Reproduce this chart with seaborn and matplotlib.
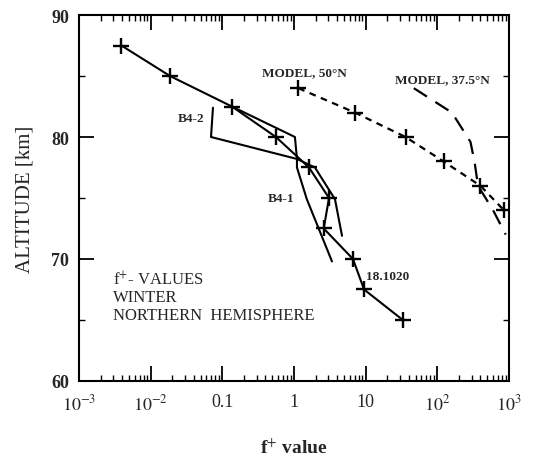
import matplotlib
matplotlib.use("Agg")
import matplotlib.pyplot as plt
import matplotlib.ticker as mticker
import numpy as np
import pandas as pd
import seaborn as sns

# Rocket profile 18.1020 (f+ value, altitude km)
f_18_1020 = [0.0039, 0.0186, 0.136, 0.56, 1.62, 3.08, 2.6, 6.65, 9.5, 33.0]
alt_18_1020 = [87.5, 85.0, 82.5, 80.0, 77.5, 75.0, 72.5, 70.0, 67.5, 65.0]

# Profile B4-1
f_b41 = [0.136, 1.03, 1.1, 1.1, 1.51, 3.39]
alt_b41 = [82.5, 80.0, 78.2, 77.5, 74.9, 69.8]

# Profile B4-2
f_b42 = [0.074, 0.0695, 1.1, 1.96, 3.73, 4.68]
alt_b42 = [82.4, 80.0, 78.2, 77.5, 74.9, 71.9]

# Model, 50 deg N
f_m50 = [1.15, 7.1, 36.0, 122.0, 400.0, 850.0]
alt_m50 = [84.0, 82.0, 80.0, 78.0, 76.0, 74.0]

# Model, 37.5 deg N
f_m375 = [47.0, 160.0, 290.0, 330.0, 370.0, 600.0, 900.0]
alt_m375 = [84.0, 82.0, 79.6, 78.0, 76.0, 74.0, 72.0]

xtick_vals = [1e-3, 1e-2, 0.1, 1, 10, 1e2, 1e3]
xtick_labels = [r"$10^{-3}$", r"$10^{-2}$", "0.1", "1", "10", r"$10^{2}$", r"$10^{3}$"]
ytick_vals = [60, 70, 80, 90]

sns.set_style("ticks")
plt.rcParams["font.family"] = ["Liberation Serif", "DejaVu Serif"]
plt.rcParams["mathtext.fontset"] = "stix"

fig = plt.figure(figsize=(5.39, 4.60), dpi=100)
ax = fig.add_axes([0.1466, 0.1696, 0.7977, 0.7956])

def draw(xs, ys, **kw):
    df = pd.DataFrame({"f": xs, "alt": ys})
    sns.lineplot(data=df, x="f", y="alt", sort=False, estimator=None, ax=ax,
                 color="black", **kw)

draw(f_b41, alt_b41, linewidth=1.5)
draw(f_b42, alt_b42, linewidth=1.5)
draw(f_18_1020, alt_18_1020, linewidth=1.5, marker="+", markersize=11,
     markeredgewidth=1.7, markeredgecolor="black")
draw(f_m50, alt_m50, linewidth=1.6, dashes=(3, 2.5), marker="+", markersize=11,
     markeredgewidth=1.7, markeredgecolor="black")
draw(f_m375, alt_m375, linewidth=1.6, dashes=(7, 4.5))

ax.set_xscale("log")
ax.set_xlim(1e-3, 1e3)
ax.set_ylim(60, 90)

ax.xaxis.set_major_locator(mticker.FixedLocator(xtick_vals))
ax.xaxis.set_major_formatter(mticker.FixedFormatter(xtick_labels))
ax.xaxis.set_minor_locator(mticker.LogLocator(base=10, subs=np.arange(2, 10), numticks=20))
ax.xaxis.set_minor_formatter(mticker.NullFormatter())
ax.yaxis.set_major_locator(mticker.FixedLocator(ytick_vals))
ax.yaxis.set_minor_locator(mticker.MultipleLocator(5))

ax.tick_params(which="both", direction="in", top=True, right=True, color="black")
ax.tick_params(which="major", length=11, width=1.3)
ax.tick_params(which="minor", length=4, width=1.0)
ax.tick_params(axis="x", which="major", labelsize=13, pad=9)
ax.tick_params(axis="y", which="major", labelsize=13, pad=7)
for lab in ax.get_yticklabels():
    lab.set_fontweight("bold")
for sp in ax.spines.values():
    sp.set_linewidth(1.5)
    sp.set_color("black")

ax.set_xlabel(r"f$^{+}$ value", fontsize=14, fontweight="bold", labelpad=17)
ax.set_ylabel("ALTITUDE [km]", fontsize=15, labelpad=12)

ax.text(0.357, 85.3, "MODEL, 50°N", fontsize=9.5, fontweight="bold", va="center")
ax.text(25.7, 84.75, "MODEL, 37.5°N", fontsize=9.5, fontweight="bold", va="center")
ax.text(0.024, 81.55, "B4-2", fontsize=9.5, fontweight="bold", va="center")
ax.text(0.43, 75.0, "B4-1", fontsize=9.5, fontweight="bold", va="center")
ax.text(10.1, 68.6, "18.1020", fontsize=9.5, fontweight="bold", va="center")
ax.text(0.003, 68.36, r"f$^{+}$- VALUES", fontsize=12, va="center")
ax.text(0.003, 66.88, "WINTER", fontsize=12, va="center")
ax.text(0.003, 65.4, "NORTHERN  HEMISPHERE", fontsize=12, va="center")

fig.savefig("out.png", dpi=100)
